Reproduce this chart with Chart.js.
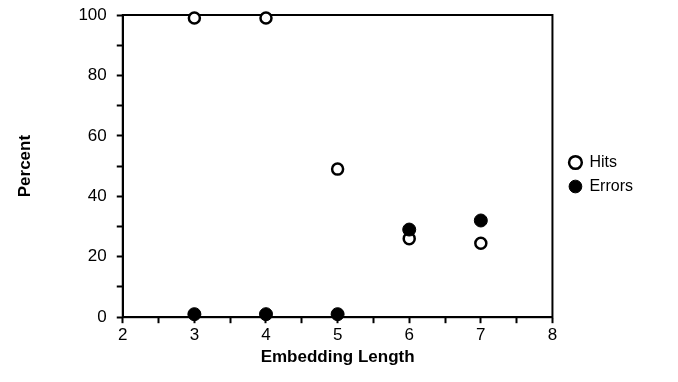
<!DOCTYPE html>
<html>
<head>
<meta charset="utf-8">
<script src="https://cdn.jsdelivr.net/npm/chart.js@4/dist/chart.umd.min.js"></script>
<style>
  html, body { margin: 0; padding: 0; background: #fff; }
  #wrap { width: 678px; height: 382px; }
</style>
</head>
<body>
<div id="wrap"><canvas id="chart" width="678" height="382"></canvas></div>
<script>
var embeddingLengths = [3, 4, 5, 6, 7];
var hitsPercent = [99, 99, 49, 26, 24.5];
var errorsPercent = [1, 1, 1, 29, 32];
var yTickLabels = [0, 20, 40, 60, 80, 100];
var xTickLabels = [2, 3, 4, 5, 6, 7, 8];

const FONT = '"Liberation Sans", Arial, Helvetica, sans-serif';

function toPoints(xs, ys) {
    var arr = [];
    for (var i = 0; i < xs.length; i++) {
        arr.push({ x: xs[i], y: ys[i] });
    }
    return arr;
}

// box around the plot area (top and right edges)
const frame = {
    id: 'frame',
    beforeDatasetsDraw(chart) {
        const a = chart.chartArea;
        const ctx = chart.ctx;
        ctx.save();
        ctx.strokeStyle = '#000';
        ctx.lineWidth = 2;
        ctx.strokeRect(a.left, a.top, a.right - a.left, a.bottom - a.top);
        ctx.restore();
    }
};

// nudge the legend a bit away from the plot and up
const legendShift = {
    id: 'legendShift',
    afterLayout(chart) {
        const lg = chart.legend;
        lg.left += 9; lg.right += 9;
        lg.top -= 17; lg.bottom -= 17;
    }
};

new Chart(document.getElementById('chart'), {
    type: 'scatter',
    data: {
        datasets: [{
            label: 'Hits',
            data: toPoints(embeddingLengths, hitsPercent),
            backgroundColor: '#fff',
            borderColor: '#000',
            borderWidth: 2.5,
            pointRadius: 5.5,
            order: 2
        }, {
            label: 'Errors',
            data: toPoints(embeddingLengths, errorsPercent),
            backgroundColor: '#000',
            borderColor: '#000',
            borderWidth: 1,
            pointRadius: 6.5,
            order: 1
        }]
    },
    options: {
        responsive: false,
        animation: false,
        clip: false,
        layout: { padding: { left: 15, right: 44, top: 15, bottom: 14 } },
        plugins: {
            legend: {
                position: 'right',
                labels: {
                    usePointStyle: true,
                    pointStyle: 'circle',
                    boxWidth: 12,
                    boxHeight: 9,
                    padding: 8,
                    color: '#000',
                    font: { family: FONT, size: 16 },
                    sort: (a, b) => a.datasetIndex - b.datasetIndex
                }
            },
            tooltip: { enabled: false }
        },
        scales: {
            x: {
                type: 'linear',
                min: 2,
                max: 8,
                border: { color: '#000', width: 2 },
                grid: { drawOnChartArea: false, tickLength: 6, tickColor: '#000', tickWidth: 2 },
                ticks: {
                    stepSize: 0.5,
                    color: '#000',
                    padding: 2,
                    maxRotation: 0,
                    font: { family: FONT, size: 17 },
                    callback: v => xTickLabels.includes(v) ? String(v) : ''
                },
                title: {
                    display: true,
                    text: 'Embedding Length',
                    color: '#000',
                    font: { family: FONT, size: 17, weight: 'bold' },
                    padding: { top: 0, bottom: 0 }
                }
            },
            y: {
                min: 0,
                max: 100,
                afterFit: scale => { scale.paddingTop = 0; },
                border: { color: '#000', width: 2 },
                grid: { drawOnChartArea: false, tickLength: 6, tickColor: '#000', tickWidth: 2 },
                ticks: {
                    stepSize: 10,
                    color: '#000',
                    padding: 10,
                    font: { family: FONT, size: 17 },
                    callback: v => yTickLabels.includes(v) ? String(v) : ''
                },
                title: {
                    display: true,
                    text: 'Percent',
                    color: '#000',
                    font: { family: FONT, size: 17, weight: 'bold' },
                    padding: { top: 0, bottom: 33 }
                }
            }
        }
    },
    plugins: [frame, legendShift]
});
</script>
</body>
</html>
